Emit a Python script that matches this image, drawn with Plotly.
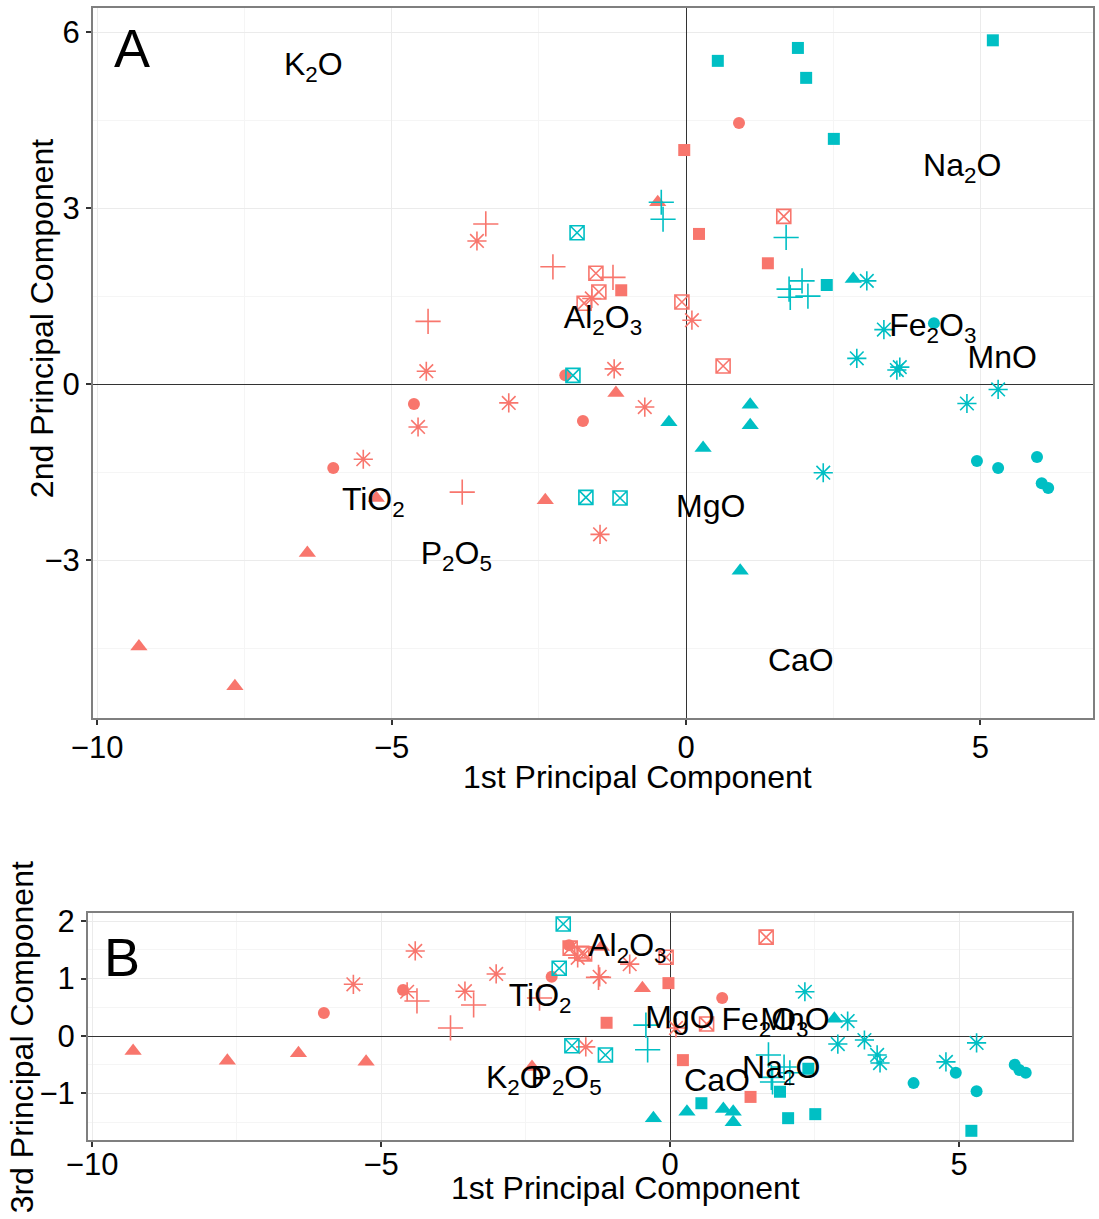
import plotly.graph_objects as go

# ---- sample scores (PC1, PC2, PC3) ----
grp = (["r"] * 37) + (["t"] * 37)
sym = (["circle"] * 5 + ["triangle"] * 7 + ["square"] * 4 + ["squarex"] * 6 + ["plus"] * 5 + ["aster"] * 10
       + ["square"] * 6 + ["triangle"] * 6 + ["circle"] * 6 + ["squarex"] * 4 + ["plus"] * 7 + ["aster"] * 8)

pc1 = [0.90, -4.62, -5.99, -2.05, -1.75,
       -0.48, -1.19, -2.39, -5.26, -6.43, -9.29, -7.66,
       -0.03, 0.22, -1.10, 1.39,
       -1.53, -1.48, -1.73, -0.07, 1.66, 0.63,
       -3.40, -2.26, -1.24, -4.38, -3.80,
       -3.55, -1.60, 0.10, -4.41, -4.55, -5.48, -3.01, -1.22, -0.70, -1.46,
       0.54, 1.90, 2.04, 5.21, 2.51, 2.39,
       2.84, -0.29, 0.29, 1.09, 1.09, 0.92,
       4.21, 4.94, 5.30, 5.96, 6.04, 6.15,
       -1.85, -1.92, -1.70, -1.12,
       -0.42, -0.39, 1.70, 1.97, 1.75, 1.77, 2.07,
       3.07, 3.36, 2.90, 3.58, 3.63, 4.77, 5.30, 2.33]

pc2 = [4.45, -0.34, -1.43, 0.15, -0.63,
       3.10, -0.15, -1.98, -1.94, -2.88, -4.47, -5.15,
       3.99, 2.56, 1.60, 2.06,
       1.89, 1.57, 1.38, 1.40, 2.86, 0.31,
       2.73, 2.00, 1.82, 1.07, -1.84,
       2.44, 1.46, 1.09, 0.22, -0.73, -1.28, -0.32, 0.26, -0.39, -2.56,
       5.51, 5.73, 5.22, 5.86, 4.18, 1.69,
       1.79, -0.65, -1.09, -0.35, -0.70, -3.18,
       1.04, -1.31, -1.43, -1.24, -1.69, -1.77,
       2.58, 0.15, -1.93, -1.94,
       3.10, 2.81, 2.50, 1.76, 1.62, 1.48, 1.50,
       1.76, 0.93, 0.44, 0.24, 0.29, -0.33, -0.09, -1.51]

pc3 = [0.66, 0.80, 0.40, 1.03, 1.58,
       0.83, 1.55, -0.54, -0.45, -0.30, -0.26, -0.43,
       0.92, -0.42, 0.23, -1.06,
       1.44, 1.43, 1.53, 1.37, 1.72, 0.21,
       0.54, 0.66, 1.02, 0.61, 0.14,
       0.78, 1.36, 0.14, 1.48, 0.77, 0.90, 1.08, 1.03, 1.25, -0.19,
       -1.17, -0.97, -1.43, -1.65, -1.36, -0.57,
       0.30, -1.43, -1.32, -1.32, -1.50, -1.27,
       -0.82, -0.64, -0.96, -0.50, -0.59, -0.64,
       1.95, 1.18, -0.17, -0.33,
       0.19, -0.24, -0.33, -0.54, -0.72, -0.80, -0.64,
       0.26, -0.07, -0.14, -0.33, -0.47, -0.45, -0.12, 0.77]

# ---- variable labels ----
oxides = ["K<sub>2</sub>O", "Na<sub>2</sub>O", "Al<sub>2</sub>O<sub>3</sub>", "Fe<sub>2</sub>O<sub>3</sub>", "MnO",
          "TiO<sub>2</sub>", "P<sub>2</sub>O<sub>5</sub>", "MgO", "CaO"]
lab_a_x = [-6.33, 4.69, -1.41, 4.19, 5.37, -5.31, -3.90, 0.42, 1.95]
lab_a_y = [5.40, 3.68, 1.09, 0.95, 0.41, -2.01, -2.93, -2.13, -4.76]
lab_b_x = [-2.68, 1.92, -0.74, 1.64, 2.16, -2.25, -1.80, 0.17, 0.81]
lab_b_y = [-0.77, -0.59, 1.53, 0.24, 0.24, 0.66, -0.77, 0.28, -0.82]

colors = {"r": "#F8766D", "t": "#00BFC4"}
FONT = "Liberation Sans, Arial, sans-serif"

def marker_for(s, c):
    if s == "circle":
        return dict(symbol="circle", size=12, color=c, line=dict(width=0))
    if s == "triangle":
        return dict(symbol="triangle-up", size=15, color=c, line=dict(width=0))
    if s == "square":
        return dict(symbol="square", size=12, color=c, line=dict(width=0))
    if s == "squarex":
        return dict(symbol="square-x-open", size=14, color=c, line=dict(width=1.6, color=c))
    if s == "plus":
        return dict(symbol="cross-thin-open", size=18, color=c, line=dict(width=1.6, color=c))
    return dict(symbol="asterisk-open", size=16, color=c, line=dict(width=1.6, color=c))

fig = go.Figure()
for g in ["r", "t"]:
    for s in ["circle", "triangle", "square", "squarex", "plus", "aster"]:
        idx = [i for i in range(len(pc1)) if grp[i] == g and sym[i] == s]
        if not idx:
            continue
        m = marker_for(s, colors[g])
        fig.add_trace(go.Scatter(x=[pc1[i] for i in idx], y=[pc2[i] for i in idx], mode="markers",
                                 marker=m, xaxis="x", yaxis="y", showlegend=False))
        fig.add_trace(go.Scatter(x=[pc1[i] for i in idx], y=[pc3[i] for i in idx], mode="markers",
                                 marker=m, xaxis="x2", yaxis="y2", showlegend=False))

fig.add_trace(go.Scatter(x=lab_a_x, y=lab_a_y, text=oxides, mode="text",
                         textfont=dict(size=32, color="black", family=FONT),
                         xaxis="x", yaxis="y", showlegend=False))
fig.add_trace(go.Scatter(x=lab_b_x, y=lab_b_y, text=oxides, mode="text",
                         textfont=dict(size=32, color="black", family=FONT),
                         xaxis="x2", yaxis="y2", showlegend=False))

axis_common = dict(showline=True, mirror=True, linecolor="#7F7F7F", linewidth=2,
                   ticks="outside", ticklen=5, tickwidth=1.5, tickcolor="#333333",
                   tickfont=dict(size=31, color="black", family=FONT),
                   showgrid=True, gridcolor="#EBEBEB", gridwidth=1, automargin=False,
                   zeroline=True, zerolinecolor="#333333", zerolinewidth=1.3)

fig.update_layout(
    width=1099, height=1219,
    margin=dict(l=0, r=0, t=0, b=0, autoexpand=False),
    paper_bgcolor="white", plot_bgcolor="white",
    font=dict(family=FONT, color="black"),
    xaxis=dict(domain=[0.0846, 0.9945], range=[-10.07, 6.91], tick0=0, dtick=5, anchor="y",
               ticklabelstandoff=-4,
               minor=dict(dtick=2.5, showgrid=True, gridcolor="#F5F5F5"), **axis_common),
    yaxis=dict(domain=[0.4110, 0.9934], range=[-5.69, 6.41], tick0=0, dtick=3, anchor="x",
               minor=dict(dtick=1.5, showgrid=True, gridcolor="#F5F5F5"), **axis_common),
    xaxis2=dict(domain=[0.0801, 0.9754], range=[-10.07, 6.95], tick0=0, dtick=5, anchor="y2",
                ticklabelstandoff=-9,
                minor=dict(dtick=2.5, showgrid=True, gridcolor="#F5F5F5"), **axis_common),
    yaxis2=dict(domain=[0.0648, 0.2510], range=[-1.81, 2.14], tick0=0, dtick=1, anchor="x2",
                minor=dict(dtick=0.5, showgrid=True, gridcolor="#F5F5F5"), **axis_common),
)

ann = [
    dict(text="1st Principal Component", x=0.5805, y=0.3626, size=32, angle=0),
    dict(text="2nd Principal Component", x=0.0382, y=0.739, size=32, angle=-90),
    dict(text="1st Principal Component", x=0.5687, y=0.0254, size=32, angle=0),
    dict(text="3rd Principal Component", x=0.0200, y=0.149, size=32, angle=-90),
    dict(text="A", x=0.1201, y=0.9606, size=54, angle=0),
    dict(text="B", x=0.1110, y=0.2149, size=54, angle=0),
]
for a in ann:
    fig.add_annotation(text=a["text"], x=a["x"], y=a["y"], xref="paper", yref="paper",
                       showarrow=False, textangle=a["angle"], xanchor="center", yanchor="middle",
                       font=dict(size=a["size"], color="black", family=FONT))

fig.write_html("out.html")
